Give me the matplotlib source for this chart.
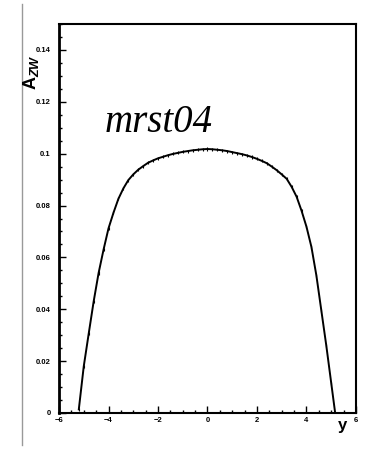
import matplotlib
matplotlib.use("Agg")
import numpy as np
import matplotlib.pyplot as plt
from matplotlib.ticker import MultipleLocator

plt.rcParams['font.family'] = ['Liberation Sans', 'DejaVu Sans']
plt.rcParams['mathtext.fontset'] = 'custom'
plt.rcParams['mathtext.rm'] = 'Liberation Sans'
plt.rcParams['mathtext.bf'] = 'Liberation Sans:bold'
plt.rcParams['mathtext.it'] = 'Liberation Sans:italic:bold'

# rapidity bins and asymmetry values
y_bins = [-5.2, -5.0, -4.8, -4.6, -4.4, -4.2, -4.0, -3.8, -3.6, -3.4, -3.2,
          -3.0, -2.8, -2.6, -2.4, -2.2, -2.0, -1.8, -1.6, -1.4, -1.2, -1.0,
          -0.8, -0.6, -0.4, -0.2, 0.0, 0.2, 0.4, 0.6, 0.8, 1.0, 1.2, 1.4,
          1.6, 1.8, 2.0, 2.2, 2.4, 2.6, 2.8, 3.0, 3.2, 3.4, 3.6, 3.8, 4.0,
          4.2, 4.4, 4.6, 4.8, 5.0, 5.2]
a_zw = [0.0014, 0.0180, 0.0306, 0.0430, 0.0540, 0.0630, 0.0712, 0.0772,
        0.0826, 0.0866, 0.0898, 0.0920, 0.0938, 0.0952, 0.0965, 0.0974,
        0.0982, 0.0988, 0.0994, 0.0999, 0.1003, 0.1007, 0.1010, 0.1013,
        0.1015, 0.1017, 0.1018, 0.1017, 0.1015, 0.1013, 0.1010, 0.1006,
        0.1002, 0.0998, 0.0993, 0.0987, 0.0980, 0.0972, 0.0963, 0.0950,
        0.0936, 0.0920, 0.0903, 0.0872, 0.0834, 0.0780, 0.0718, 0.0640,
        0.0530, 0.0395, 0.0260, 0.0115, -0.0030]
a_err = 0.0006

fig = plt.figure(figsize=(3.73, 4.49), dpi=100)
ax = fig.add_axes([0.1582, 0.0802, 0.7962, 0.8663])

ax.plot(y_bins, a_zw, color='black', lw=1.4)
ax.errorbar(y_bins, a_zw, yerr=a_err, fmt='none', ecolor='black',
            elinewidth=0.8, capsize=0)

ax.set_xlim(-6, 6)
ax.set_ylim(0, 0.15)
ax.xaxis.set_minor_locator(MultipleLocator(0.5))
ax.yaxis.set_minor_locator(MultipleLocator(0.005))
ax.set_yticks([0, 0.02, 0.04, 0.06, 0.08, 0.1, 0.12, 0.14])
ax.set_yticklabels(['0', '0.02', '0.04', '0.06', '0.08', '0.1', '0.12', '0.14'])
ax.set_xticks([-6, -4, -2, 0, 2, 4, 6])
ax.set_xticklabels(['\u22126', '\u22124', '\u22122', '0', '2', '4', '6'])

ax.tick_params(which='both', direction='in', top=False, right=False,
               width=1.0, labelsize=5.5)
ax.tick_params(which='major', length=5)
ax.tick_params(which='minor', length=2.5)
ax.tick_params(axis='y', pad=6)
ax.tick_params(axis='x', pad=3)
for lbl in ax.get_xticklabels() + ax.get_yticklabels():
    lbl.set_fontweight('bold')
for side in ax.spines.values():
    side.set_linewidth(1.5)
ax.spines['left'].set_linewidth(2.0)

ax.text(-4.15, 0.1085, 'mrst04', fontsize=28, style='italic',
        family='Liberation Serif')

fig.text(0.083, 0.84, r'$\mathbf{A}_{\mathit{ZW}}$', rotation=90,
         fontsize=13, ha='center', va='center')
fig.text(0.918, 0.052, 'y', fontsize=12, fontweight='bold',
         ha='center', va='center')

# thin grey rule down the left margin
fig.add_artist(plt.Line2D([0.059, 0.059], [0.01, 0.99], color='#999999',
                          lw=1.0, transform=fig.transFigure))

fig.savefig('out.png', dpi=100)
